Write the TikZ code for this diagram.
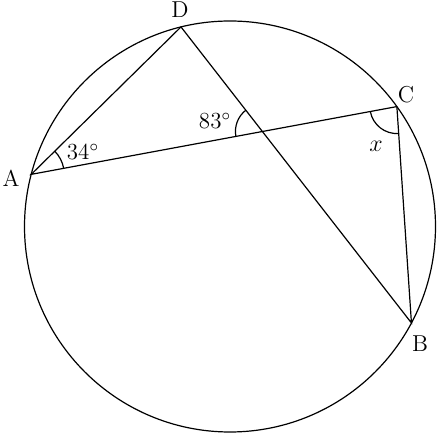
\documentclass[tikz,border=0pt]{standalone}
\usetikzlibrary{angles,calc}
\begin{document}
\begin{tikzpicture}[x=0.5pt,y=0.5pt,line width=0.6pt,
  every node/.style={font=\fontsize{11.5}{14}\selectfont}]
\useasboundingbox (0,0) rectangle (440,433);

% Circle and points on it
\coordinate (O) at (230,206.5);
\draw (O) circle (205.5);
\coordinate (D) at ($(O)+(103.8:205.5)$);
\coordinate (A) at ($(O)+(165.3:205.5)$);
\coordinate (C) at ($(O)+(35.7:205.5)$);
\coordinate (B) at ($(O)+(-28.0:205.5)$);
\coordinate (P) at (intersection of A--C and D--B);

% Chords
\draw (C) -- (A) -- (D) -- (B) -- (C);

% Angle marks
\pic[draw, angle radius=16.5pt] {angle = C--A--D};
\pic[draw, angle radius=13.5pt] {angle = D--P--A};
\pic[draw, angle radius=13.5pt] {angle = A--C--B};

% Labels
\node (labA) at (11,255) {A};
\node (labB) at (420,89) {B};
\node (labC) at (406,338) {C};
\node (labD) at (180,423) {D};
\node (ang34) at (83,281) {34$^\circ$};
\node (ang83) at (215,312) {83$^\circ$};
\node (angX) at (376,287) {$x$};
\end{tikzpicture}
\end{document}
